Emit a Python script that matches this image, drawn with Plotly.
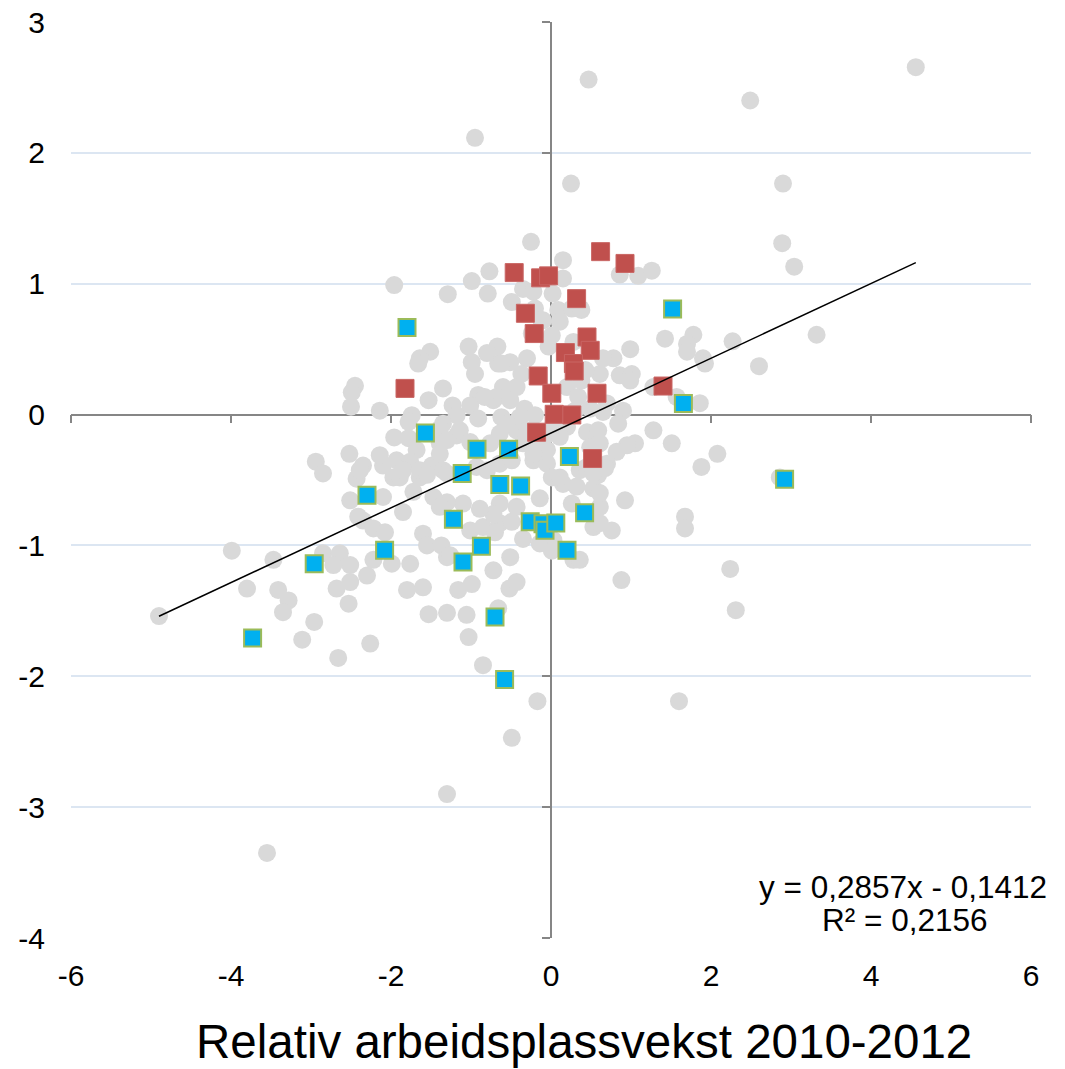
import plotly.graph_objects as go

# ---- data ----
gray_x = [4.56, 0.47, 2.49, -0.95, 0.25, 2.90, 2.89, 3.04, 3.32, 2.27, 2.60, 1.86, 2.08, 1.88, 2.86, 2.24, 2.31, 1.60, -0.17, -0.49, -1.30, -3.55,
          -0.25, 0.15, -0.77, -1.96, -0.99, -1.29, -0.79, -0.49, -0.35, -0.22, 0.02, 0.15, 0.09, 0.26, 0.37, 0.86, 1.09, 1.26, -0.20, -0.10, 1.425, 1.78, 1.70, 1.70, 0.99, 0.78, -1.51, -1.03, -0.67, -0.80, -1.64, -0.24, 0.01, 0.28, 1.90,
          -1.66, -0.99, -0.95, -0.66, -2.45, -2.49, -2.50, -2.14, -1.53, -1.35, -1.23, -0.91, -1.01, -0.72, -1.18, -0.91, -1.74, -1.78, -1.35, -1.96, -1.78, -1.39, -1.18, -1.68, -2.52, -2.94, -2.85, -2.35, -2.10, -1.93, -1.76, -1.49, -1.35, -2.43, -1.97, -1.64,
          0.38, -0.12, 0.11, 1.925, -0.51, -0.62, -0.30, -0.03, 0.65, 0.86, 1.01, 0.61, 0.43, -0.37, -0.60, -0.43, -0.68, -0.51, -0.33, 0.20, 0.34, 0.30, 0.49, 0.70, 0.90, 1.28, 1.57, -0.62, -0.39, -0.43, -0.64, -0.76, -0.35, -0.03, 0.20, 0.45, 0.59, 0.65, 0.84, 1.05, 1.28, 1.51, 0.95, 0.82, 0.70, -0.05, -0.22, 0.36, 0.59,
          -0.83, -0.20, 0.38, 0.99, 0.925, 1.675, 1.675, 0.88, -0.85, -1.03, -2.26, -1.53, -1.30, -1.055, -1.80, -1.60, -1.16, -0.99, -0.52, -0.43, -0.51, -0.72, -1.76, -1.99, -2.22, -2.30, -1.60, -1.55, -1.37, -1.30, -1.01, -0.85, -0.64, -0.49, -0.35, -0.14, 0.03, 0.28, 0.36, 0.53, 0.76, 0.53, 0.61, 0.26, 0.15, 0.01, -0.14, -0.43, -0.64, -0.72, -0.89, -1.10, -1.30, -1.47, -1.72, -1.89, -1.85, -1.64, -1.30, -1.55, -0.80, -0.93, -0.64, -0.49, 0.11, 0.45, 0.53, 0.675, 0.53, 0.32, 0.61, -1.39, -1.30, -1.14, -1.01, -0.55, -0.30, -0.18, 0.03, 0.11, 0.61, 0.49, -0.05, -0.22, -1.39, -2.14, -2.39,
          0.61, 0.01, -0.70,
          -2.51, -2.10, -1.85, -2.35, -2.22, -2.075, -1.39, -1.26, -2.51, -2.68, -2.53, -2.85, -2.64, -2.51, -2.72, -3.47, -3.80, -3.41, -3.28, -3.35, -2.96, -3.11, -2.66, -0.66, -3.99,
          -4.90, -2.41]
gray_y = [2.655, 2.56, 2.40, 2.115, 1.765, 1.765, 1.31, 1.13, 0.61, 0.56, 0.37, 0.087, -0.30, -0.40, -0.48, -1.18, -1.495, -2.19, -2.19, -2.47, -2.90, -3.35,
          1.32, 1.18, 1.095, 0.99, 1.02, 0.92, 0.925, 0.86, 0.96, 0.94, 0.925, 1.04, 0.80, 0.81, 0.81, 1.07, 1.06, 1.10, 0.81, 0.72, 0.58, 0.61, 0.54, 0.48, 0.50, 0.43, 0.48, 0.52, 0.52, 0.47, 0.43, 0.62, 0.605, 0.555, 0.43,
          0.39, 0.40, 0.31, 0.39, 0.22, 0.17, 0.06, 0.03, 0.11, 0.20, 0.07, 0.15, 0.07, 0.11, -0.005, -0.03, -0.005, -0.055, -0.07, -0.175, -0.18, -0.22, -0.16, -0.27, -0.30, -0.36, -0.45, -0.39, -0.39, -0.35, -0.36, -0.39, -0.425, -0.49, -0.48, -0.48,
          0.80, 0.72, 0.71, 0.39, 0.40, 0.39, 0.43, 0.52, 0.43, 0.30, 0.31, 0.31, 0.34, 0.31, 0.21, 0.21, 0.135, 0.11, 0.045, 0.21, 0.135, 0.03, 0.045, 0.085, 0.03, 0.21, 0.135, -0.02, -0.02, -0.12, -0.145, -0.22, -0.22, -0.145, -0.095, -0.135, -0.12, 0.02, -0.07, -0.22, -0.12, -0.22, -0.235, -0.285, -0.375, -0.375, -0.35, -0.425, -0.46,
          0.135, -0.005, 0.26, 0.26, -0.655, -0.78, -0.87, -1.265, -1.915, -1.70, -1.75, -1.525, -1.515, -1.53, -1.34, -1.32, -1.34, -1.295, -1.33, -1.28, -1.09, -1.19, -1.14, -1.14, -1.11, -1.23, -0.91, -1.0, -1.0, -1.09, -0.885, -0.86, -0.83, -0.82, -0.95, -0.985, -0.96, -1.11, -1.11, -0.86, -0.885, -0.77, -0.705, -0.68, -0.53, -0.48, -0.64, -0.705, -0.68, -0.76, -0.72, -0.68, -0.67, -0.63, -0.59, -0.48, -0.425, -0.425, -0.45, -0.46, -0.425, -0.40, -0.375, -0.35, -0.48, -0.40, -0.45, -0.41, -0.565, -0.55, -0.60, -0.11, -0.195, -0.12, -0.21, -0.07, -0.12, -0.195, -0.07, -0.17, -0.22, -0.25, -0.27, -0.30, -0.30, -0.31, -0.425,
          -0.83, -1.04, -0.90,
          -0.655, -0.63, -0.745, -0.81, -0.87, -0.90, -0.705, -1.075, -1.28, -1.33, -1.445, -1.06, -1.06, -1.15, -1.15, -1.11, -1.33, -1.34, -1.42, -1.51, -1.585, -1.72, -1.86, -1.48, -1.04,
          -1.54, -0.78]

red_x = [-1.825, -0.46, -0.13, -0.03, 0.62, 0.925, 0.32, -0.32, -0.21, 0.45, 0.49, 0.18, 0.28, 0.29, -0.16, 0.01, 0.575, 0.04, 0.26, -0.18, 1.40, 0.52]
red_y = [0.20, 1.085, 1.045, 1.06, 1.245, 1.155, 0.886, 0.774, 0.619, 0.593, 0.491, 0.474, 0.39, 0.333, 0.295, 0.163, 0.163, 0.002, -0.003, -0.135, 0.218, -0.336]

blue_x = [-1.80, -1.57, -0.925, -0.53, 0.23, -1.11, -0.64, -0.38, 1.52, 1.655, 2.92, -2.30, -1.22, -0.26, -0.10, -0.075, 0.06, 0.42, -2.08, -0.87, 0.20, -2.96, -1.10, -0.70, -0.58, -3.73]
blue_y = [0.665, -0.14, -0.265, -0.265, -0.32, -0.45, -0.535, -0.545, 0.807, 0.084, -0.494, -0.617, -0.80, -0.82, -0.835, -0.884, -0.828, -0.75, -1.037, -1.006, -1.037, -1.14, -1.126, -1.546, -2.025, -1.707]

trend_slope = 0.2857
trend_intercept = -0.1412
r_squared = 0.2156
x_title = "Relativ arbeidsplassvekst 2010-2012"
x_ticks = [-6, -4, -2, 0, 2, 4, 6]
y_ticks = [-4, -3, -2, -1, 0, 1, 2, 3]
x_ticktext = ["-6", "-4", "-2", "0", "2", "4", "6"]
y_ticktext = ["-4", "-3", "-2", "-1", "0", "1", "2", "3"]

# ---- figure ----
all_x = gray_x + red_x + blue_x
x0, x1 = min(all_x), max(all_x)
trend_x = [x0, x1]
trend_y = [trend_slope * v + trend_intercept for v in trend_x]

FONT = "Liberation Sans, Arial, sans-serif"
fig = go.Figure()
fig.add_trace(go.Scatter(x=gray_x, y=gray_y, mode="markers",
                         marker=dict(symbol="circle", size=18, color="#D9D9D9", line=dict(width=0)),
                         hoverinfo="skip", showlegend=False))
fig.add_trace(go.Scatter(x=red_x, y=red_y, mode="markers",
                         marker=dict(symbol="square", size=18, color="#C0504D", line=dict(width=1, color="#C96664")),
                         hoverinfo="skip", showlegend=False))
fig.add_trace(go.Scatter(x=blue_x, y=blue_y, mode="markers",
                         marker=dict(symbol="square", size=17, color="#00B0F0", line=dict(width=2, color="#9BBB59")),
                         hoverinfo="skip", showlegend=False))
fig.add_trace(go.Scatter(x=trend_x, y=trend_y, mode="lines",
                         line=dict(color="black", width=1.5), hoverinfo="skip", showlegend=False))
# dummy trace for the label axes
fig.add_trace(go.Scatter(x=[None], y=[None], xaxis="x2", yaxis="y2", showlegend=False, hoverinfo="skip"))

eq_line1 = f"y = {trend_slope:.4f}x - {abs(trend_intercept):.4f}".replace(".", ",")
eq_line2 = f"R² = {r_squared:.4f}".replace(".", ",")

AX = "#868686"
fig.update_layout(
    template="none",
    width=1065, height=1069,
    margin=dict(l=71, r=34, t=22, b=131, autoexpand=False),
    paper_bgcolor="white", plot_bgcolor="white",
    font=dict(family=FONT, color="black"),
    xaxis=dict(range=[-6, 6], tickvals=x_ticks, anchor="free", position=4 / 7,
               showline=True, linecolor=AX, linewidth=1.5, ticks="outside", ticklen=8,
               tickcolor=AX, tickwidth=1.5, showticklabels=False, showgrid=False,
               zeroline=False, layer="below traces", automargin=False),
    yaxis=dict(range=[-4, 3], tickvals=y_ticks, anchor="free", position=0.5,
               showline=True, linecolor=AX, linewidth=1.5, ticks="outside", ticklen=8,
               tickcolor=AX, tickwidth=1.5, showticklabels=False, showgrid=True,
               gridcolor="#DCE6F2", gridwidth=1.5, zeroline=False, layer="below traces",
               automargin=False),
    xaxis2=dict(range=[-6, 6], tickvals=x_ticks, ticktext=x_ticktext, overlaying="x",
                anchor="free", position=0, side="bottom", showline=False, ticks="",
                showgrid=False, zeroline=False, automargin=False,
                tickfont=dict(size=30, family=FONT, color="black"), ticklabelstandoff=17),
    yaxis2=dict(range=[-4, 3], tickvals=y_ticks, ticktext=y_ticktext, overlaying="y",
                anchor="free", position=0, side="left", showline=False, ticks="",
                showgrid=False, zeroline=False, automargin=False,
                tickfont=dict(size=30, family=FONT, color="black"), ticklabelstandoff=26),
    annotations=[
        dict(text=eq_line1, x=4.40, y=-3.611, xref="x", yref="y", showarrow=False,
             xanchor="center", yanchor="middle", font=dict(size=31.5, family=FONT, color="black")),
        dict(text=eq_line2, x=4.42, y=-3.863, xref="x", yref="y", showarrow=False,
             xanchor="center", yanchor="middle", font=dict(size=31.5, family=FONT, color="black")),
        dict(text=x_title, x=0.41, xref="x", y=-0.113, yref="paper", showarrow=False,
             xanchor="center", yanchor="middle", font=dict(size=47.5, family=FONT, color="black")),
    ],
)

fig.write_html("out.html", config={"displayModeBar": False},
               post_script="document.body.style.margin='0';document.body.style.overflow='hidden';")
